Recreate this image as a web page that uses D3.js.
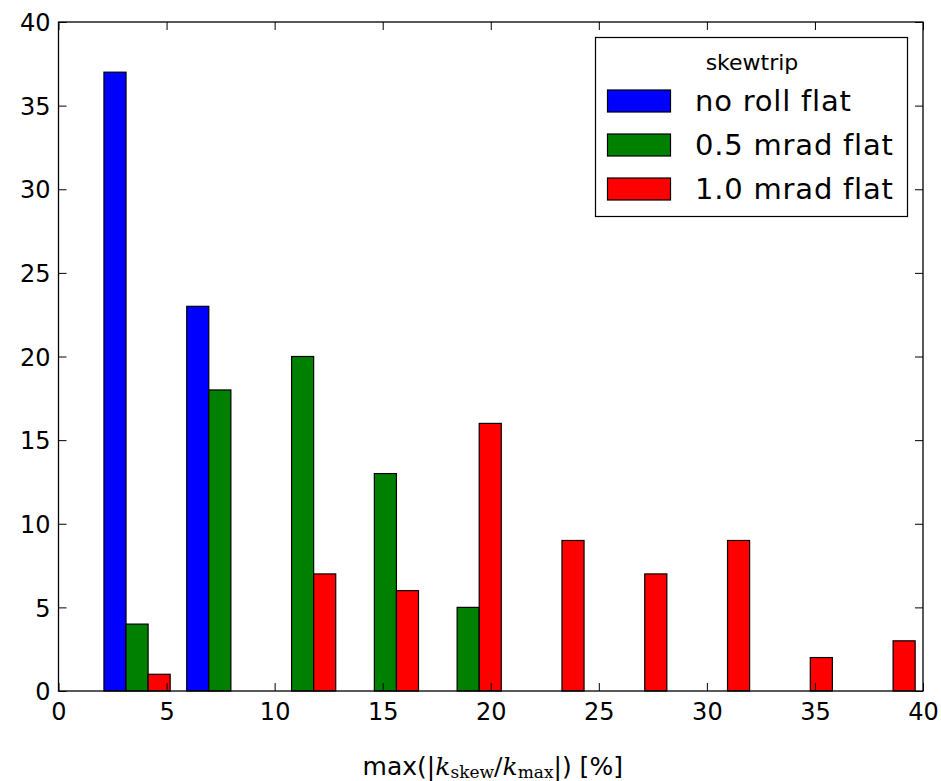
<!DOCTYPE html>
<html><head><meta charset="utf-8">
<script src="https://cdn.jsdelivr.net/npm/d3@7"></script>
<style>body{margin:0;background:#fff}svg{display:block}</style>
</head><body>
<script>
// ---- data ----
const binStart = 1.72;       // first bin edge (x units)
const binWidth = 3.83;       // bin width (x units)
const seriesNames = ["no roll flat", "0.5 mrad flat", "1.0 mrad flat"];
const seriesColors = ["#0000ff", "#008000", "#ff0000"];
const noRoll   = [37, 23, 0, 0, 0, 0, 0, 0, 0, 0];
const half     = [4, 18, 20, 13, 5, 0, 0, 0, 0, 0];
const one      = [1, 0, 7, 6, 16, 9, 7, 9, 2, 3];
const xTicks = [0, 5, 10, 15, 20, 25, 30, 35, 40];
const yTicks = [0, 5, 10, 15, 20, 25, 30, 35, 40];
const legendTitle = "skewtrip";

const W = 941, H = 781;
const m = {left: 58.5, right: 941 - 923, top: 22, bottom: 781 - 691};
const svg = d3.select("body").append("svg").attr("width", W).attr("height", H);
const font = "'DejaVu Sans', sans-serif";

const x = d3.scaleLinear().domain([0, 40]).range([m.left, W - m.right]);
const y = d3.scaleLinear().domain([0, 40]).range([H - m.bottom, m.top]);

const series = [noRoll, half, one];
const g = svg.append("g");
series.forEach((vals, s) => {
  g.selectAll(null).data(vals).enter().append("rect")
    .attr("x", (d, i) => {
      const e = binStart + i * binWidth;
      return x(e + binWidth * 0.1 + s * binWidth * 0.8 / 3);
    })
    .attr("width", x(binWidth * 0.8 / 3) - x(0))
    .attr("y", d => y(d))
    .attr("height", d => y(0) - y(d))
    .attr("fill", seriesColors[s])
    .attr("stroke", "#000").attr("stroke-width", 1.2)
    .style("display", d => d > 0 ? null : "none");
});

// frame
svg.append("rect").attr("x", x(0)).attr("y", y(40))
  .attr("width", x(40) - x(0)).attr("height", y(0) - y(40))
  .attr("fill", "none").attr("stroke", "#000").attr("stroke-width", 1.3);

const tl = 8;
const axB = d3.axisBottom(x).tickValues(xTicks).tickSizeInner(-tl).tickSizeOuter(0).tickPadding(12);
const gx = svg.append("g").attr("transform", `translate(0,${y(0)})`).call(axB);
const axT = d3.axisTop(x).tickValues(xTicks).tickSizeInner(-tl).tickSizeOuter(0).tickFormat("");
const gxt = svg.append("g").attr("transform", `translate(0,${y(40)})`).call(axT);
const axL = d3.axisLeft(y).tickValues(yTicks).tickSizeInner(-tl).tickSizeOuter(0).tickPadding(8);
const gy = svg.append("g").attr("transform", `translate(${x(0)},0)`).call(axL);
const axR = d3.axisRight(y).tickValues(yTicks).tickSizeInner(-tl).tickSizeOuter(0).tickFormat("");
const gyr = svg.append("g").attr("transform", `translate(${x(40)},0)`).call(axR);
[gx, gxt, gy, gyr].forEach(a => {
  a.select(".domain").remove();
  a.selectAll("line").attr("stroke", "#000").attr("stroke-width", 1);
  a.selectAll("text").attr("font-family", font).attr("font-size", 24).attr("fill", "#000");
});
gy.selectAll("text").attr("dy", "0.36em");

// x label
const xl = svg.append("text").attr("x", x(20) + 2).attr("y", 775)
  .attr("text-anchor", "middle").attr("font-family", font).attr("font-size", 25).attr("fill", "#000");
const serif = "'DejaVu Serif', serif";
xl.append("tspan").text("max(|");
xl.append("tspan").attr("font-family", serif).attr("font-style", "italic").text("k");
xl.append("tspan").attr("font-family", serif).attr("font-size", 17).attr("dy", 3).text("skew");
xl.append("tspan").attr("font-family", serif).attr("dy", -3).text("/");
xl.append("tspan").attr("font-family", serif).attr("font-style", "italic").text("k");
xl.append("tspan").attr("font-family", serif).attr("font-size", 17).attr("dy", 3).text("max");
xl.append("tspan").attr("dy", -3).text("|) [%]");

// legend
const lg = svg.append("g");
lg.append("rect").attr("x", 595.5).attr("y", 37.5).attr("width", 312).attr("height", 179)
  .attr("fill", "#fff").attr("stroke", "#000").attr("stroke-width", 1.2);
lg.append("text").attr("x", 752).attr("y", 70).attr("text-anchor", "middle")
  .attr("font-family", font).attr("font-size", 22).attr("fill", "#000").text(legendTitle);
seriesNames.forEach((name, i) => {
  const yy = 90 + i * 44;
  lg.append("rect").attr("x", 607.5).attr("y", yy).attr("width", 63).attr("height", 22)
    .attr("fill", seriesColors[i]).attr("stroke", "#000").attr("stroke-width", 1.2);
  lg.append("text").attr("x", 695).attr("y", yy + 21).attr("font-family", font)
    .attr("font-size", 29).attr("letter-spacing", 0.8).attr("fill", "#000").text(name);
});
</script>
</body></html>
